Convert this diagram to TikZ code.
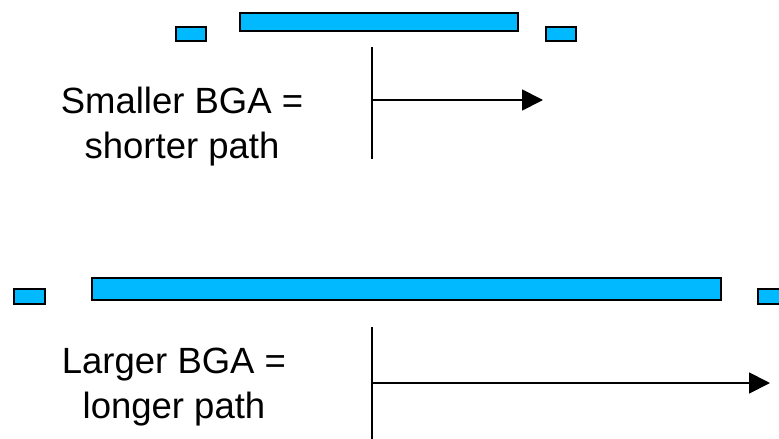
\documentclass[tikz,border=0pt]{standalone}
\usepackage{fontspec}
\setmainfont{Liberation Sans}
\usetikzlibrary{arrows.meta}
\definecolor{padblue}{RGB}{0,185,255}

\begin{document}
\begin{tikzpicture}[x=1pt, y=-1pt, font=\fontsize{36.5}{45}\selectfont,
		pad/.style={draw=black, fill=padblue, line width=2pt, inner sep=0pt, anchor=north west},
		ball/.style={pad, minimum width=30pt, minimum height=14pt},
		axis/.style={line width=1.8pt},
		path/.style={line width=1.8pt, -{Triangle[length=21pt, width=21pt]}}]
	\useasboundingbox (0,0) rectangle (779,439);
		\node[ball] (sleft) at (175,26) {};
		\node[pad, minimum width=278pt, minimum height=18pt] (sdie) at (239,12) {};
		\node[ball] (sright) at (545,26) {};
		\node[anchor=base] (stext1) at (182,113) {Smaller BGA =};
		\node[anchor=base] (stext2) at (182,158) {shorter path};
		\coordinate (stop) at (372,47);
		\coordinate (sbot) at (372,159);
		\coordinate (sstart) at (372,100);
		\coordinate (send) at (543,100);
		\draw[axis] (stop) -- (sbot);
		\draw[path] (sstart) -- (send);
		\node[ball, minimum width=31pt, minimum height=15pt] (lleft) at (13,288) {};
		\node[pad, minimum width=629pt, minimum height=22pt] (ldie) at (91,277) {};
		\node[ball, minimum width=31pt, minimum height=15pt] (lright) at (757,288) {};
		\node[anchor=base] (ltext1) at (174,373) {Larger BGA =};
		\node[anchor=base] (ltext2) at (174,418) {longer path};
		\coordinate (ltop) at (372,327);
		\coordinate (lbot) at (372,439);
		\coordinate (lstart) at (372,383);
		\coordinate (lend) at (770,383);
		\draw[axis] (ltop) -- (lbot);
		\draw[path] (lstart) -- (lend);
	\end{tikzpicture}
\end{document}
